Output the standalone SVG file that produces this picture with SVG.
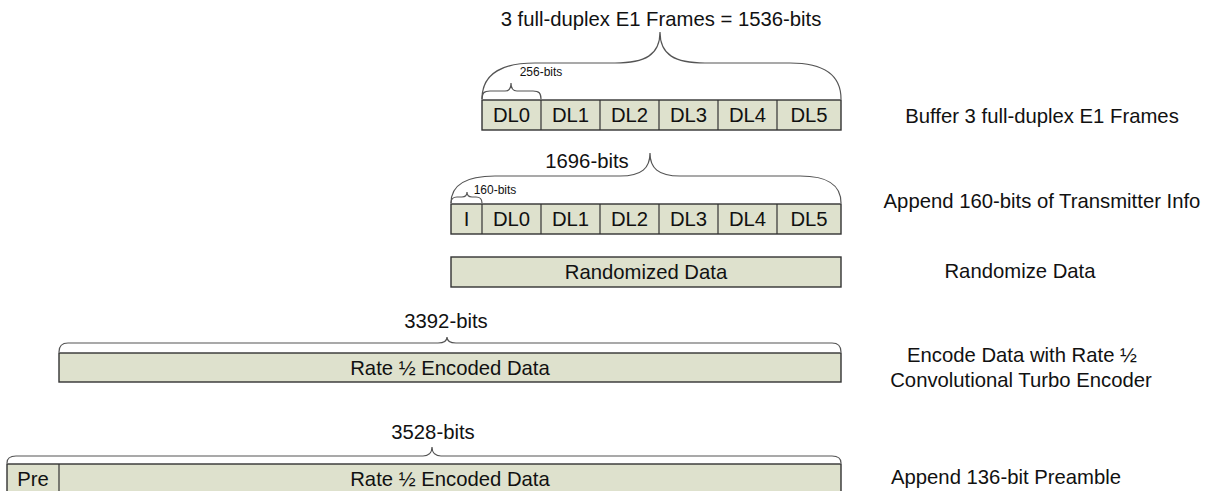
<svg xmlns="http://www.w3.org/2000/svg" width="1212" height="491" viewBox="0 0 1212 491">
<style>
text{font-family:"Liberation Sans",Arial,sans-serif;fill:#111;text-anchor:middle}
.t{font-size:20.3px}
.s{font-size:12px}
.l{font-size:20.3px}
.box{fill:#dee1cd;stroke:#333;stroke-width:1.4}
.div{stroke:#333;stroke-width:1.2}
.br{fill:none;stroke:#555;stroke-width:1.2}
</style>
<rect width="1212" height="491" fill="#fff"/>
<g id="connectors">
<path class="br" d="M482,99 C482,72 505,63 535,63 L615,63 C645,63 660,55 660,32 C660,55 675,63 705,63 L790,63 C820,63 841,72 841,99"/>
<path class="br" d="M482,99 C482,93 484,91 490,91 L505,91 C509,91 511,88 511,83 C511,88 513,91 517,91 L533,91 C539,91 541,93 541,99"/>
<path class="br" d="M451,203 C451,184 468,176 495,176 L620,176 C642,176 650,168 650,153 C650,168 658,176 680,176 L800,176 C827,176 841,184 841,203"/>
<path class="br" d="M451,203 C451,199 453,197 457,197 L462,197 C465,197 467,195 467,192 C467,195 469,197 472,197 L476,197 C480,197 482,199 482,203"/>
<path class="br" d="M59,352 C59,346 62,343 68,343 L438,343 C443,343 447,341 447,337 C447,341 451,343 456,343 L832,343 C838,343 841,346 841,352"/>
<path class="br" d="M7,463 C7,458 10,456 16,456 L423,456 C428,456 432,453 432,447 C432,453 436,456 441,456 L832,456 C838,456 841,458 841,463"/>
</g>
<g id="title"><text class="t" x="661" y="26">3 full-duplex E1 Frames = 1536-bits</text></g>
<g id="lbl256"><text class="s" x="541" y="76">256-bits</text></g>
<g id="row1">
<rect class="box" x="482" y="100" width="359" height="30"/>
<line class="div" x1="541" y1="100" x2="541" y2="130"/>
<line class="div" x1="600" y1="100" x2="600" y2="130"/>
<line class="div" x1="659" y1="100" x2="659" y2="130"/>
<line class="div" x1="718" y1="100" x2="718" y2="130"/>
<line class="div" x1="777" y1="100" x2="777" y2="130"/>
<text class="l" x="511.5" y="122">DL0</text>
<text class="l" x="570.5" y="122">DL1</text>
<text class="l" x="629.5" y="122">DL2</text>
<text class="l" x="688.5" y="122">DL3</text>
<text class="l" x="747.5" y="122">DL4</text>
<text class="l" x="809" y="122">DL5</text>
</g>
<g id="lbl1696"><text class="t" x="587" y="168">1696-bits</text></g>
<g id="lbl160"><text class="s" x="495" y="194">160-bits</text></g>
<g id="row2">
<rect class="box" x="451" y="204" width="390" height="30"/>
<line class="div" x1="482" y1="204" x2="482" y2="234"/>
<line class="div" x1="541" y1="204" x2="541" y2="234"/>
<line class="div" x1="600" y1="204" x2="600" y2="234"/>
<line class="div" x1="659" y1="204" x2="659" y2="234"/>
<line class="div" x1="718" y1="204" x2="718" y2="234"/>
<line class="div" x1="777" y1="204" x2="777" y2="234"/>
<text class="l" x="466.5" y="226">I</text>
<text class="l" x="511.5" y="226">DL0</text>
<text class="l" x="570.5" y="226">DL1</text>
<text class="l" x="629.5" y="226">DL2</text>
<text class="l" x="688.5" y="226">DL3</text>
<text class="l" x="747.5" y="226">DL4</text>
<text class="l" x="809" y="226">DL5</text>
</g>
<g id="row3">
<rect class="box" x="451" y="257" width="390" height="30"/>
<text class="l" x="646" y="279">Randomized Data</text>
</g>
<g id="lbl3392"><text class="t" x="446" y="328">3392-bits</text></g>
<g id="row4">
<rect class="box" x="59" y="353" width="782" height="29"/>
<text class="l" x="450" y="375">Rate ½ Encoded Data</text>
</g>
<g id="lbl3528"><text class="t" x="433" y="439">3528-bits</text></g>
<g id="row5">
<rect class="box" x="7" y="464" width="834" height="32"/>
<line class="div" x1="59" y1="464" x2="59" y2="491"/>
<text class="l" x="33" y="486">Pre</text>
<text class="l" x="450" y="486">Rate ½ Encoded Data</text>
</g>
<g id="steps">
<text class="t" x="1042" y="123">Buffer 3 full-duplex E1 Frames</text>
<text class="t" x="1042" y="208">Append 160-bits of Transmitter Info</text>
<text class="t" x="1020" y="278">Randomize Data</text>
<text class="t" x="1022" y="362">Encode Data with Rate ½</text>
<text class="t" x="1021" y="387">Convolutional Turbo Encoder</text>
<text class="t" x="1006" y="484">Append 136-bit Preamble</text>
</g>
</svg>
